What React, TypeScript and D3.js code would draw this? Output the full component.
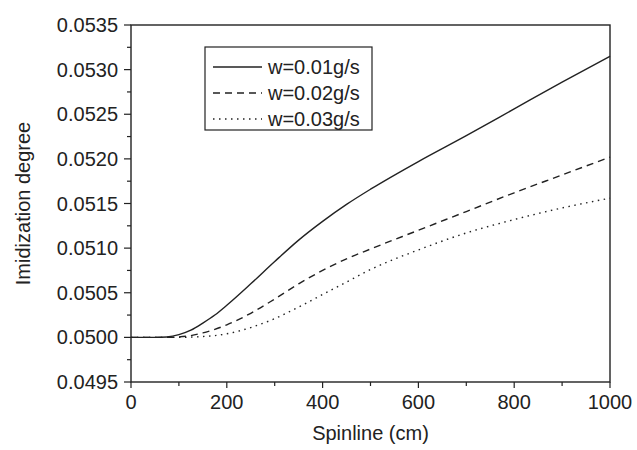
import React from "react";
import * as d3 from "d3";

const xCm = [0, 50, 75, 100, 125, 150, 175, 200, 250, 300, 350, 400, 450, 500, 600, 700, 800, 900, 1000];
const w001 = [0.05, 0.05, 0.050005, 0.05003, 0.05008, 0.05016, 0.05025, 0.05036, 0.0506, 0.05085, 0.05109, 0.0513, 0.05149, 0.05166, 0.05197, 0.05226, 0.05256, 0.05286, 0.05315];
const w002 = [0.05, 0.05, 0.05, 0.050005, 0.05002, 0.05005, 0.05009, 0.05014, 0.05027, 0.05043, 0.0506, 0.05075, 0.05088, 0.05099, 0.0512, 0.05141, 0.05162, 0.05182, 0.05202];
const w003 = [0.05, 0.05, 0.05, 0.05, 0.050003, 0.05001, 0.05002, 0.05004, 0.05011, 0.05021, 0.05034, 0.05048, 0.05062, 0.05076, 0.05098, 0.05117, 0.05132, 0.05145, 0.05156];
const seriesNames = ["w=0.01g/s", "w=0.02g/s", "w=0.03g/s"];
const xTicks = [0, 200, 400, 600, 800, 1000];
const yTicks = [0.0495, 0.05, 0.0505, 0.051, 0.0515, 0.052, 0.0525, 0.053, 0.0535];

const W = 637, H = 450;
const L = 131, R = 610, T = 25, B = 382;
const FONT = "'Liberation Sans', Arial, Helvetica, sans-serif";
const INK = "#222";

export default function App() {
  const x = d3.scaleLinear().domain([0, 1000]).range([L, R]);
  const y = d3.scaleLinear().domain([0.0495, 0.0535]).range([B, T]);
  const line = d3.line<[number, number]>().x(d => x(d[0])).y(d => y(d[1])).curve(d3.curveMonotoneX);
  const data = [w001, w002, w003];
  const dashes = ["none", "7,5", "1.5,4.5"];
  const xMinor = d3.range(0, 1001, 100);
  const yMinor = d3.range(0, 17).map(i => 0.0495 + i * 0.00025);

  return (
    <svg width={W} height={H} style={{ position: "absolute", left: 0, top: 0, background: "#fff" }} fontFamily={FONT}>
      <rect x={0} y={0} width={W} height={H} fill="#fff" />
      {data.map((vals, i) => (
        <path key={i} d={line(xCm.map((c, j) => [c, vals[j]] as [number, number])) || ""} fill="none" stroke={INK} strokeWidth={1.4} strokeDasharray={dashes[i]} />
      ))}
      <rect x={L} y={T} width={R - L} height={B - T} fill="none" stroke={INK} strokeWidth={1.4} />
      {xMinor.map(v => (
        <line key={"xm" + v} x1={x(v)} x2={x(v)} y1={B} y2={B + (v % 200 === 0 ? 6 : 4)} stroke={INK} strokeWidth={1.2} />
      ))}
      {yMinor.map((v, i) => (
        <line key={"ym" + i} x1={L} x2={L - (i % 2 === 0 ? 7 : 4)} y1={y(v)} y2={y(v)} stroke={INK} strokeWidth={1.2} />
      ))}
      {xTicks.map(v => (
        <text key={"xt" + v} x={x(v)} y={409} textAnchor="middle" fontSize={20} fill={INK}>{v}</text>
      ))}
      {yTicks.map(v => (
        <text key={"yt" + v} x={118} y={y(v) + 7} textAnchor="end" fontSize={20} fill={INK}>{v.toFixed(4)}</text>
      ))}
      <text x={(L + R) / 2} y={440} textAnchor="middle" fontSize={20} fill={INK}>Spinline (cm)</text>
      <text transform={`translate(30,${(T + B) / 2}) rotate(-90)`} textAnchor="middle" fontSize={20} fill={INK}>Imidization degree</text>
      <g>
        <rect x={205} y={47} width={167} height={83} fill="#fff" stroke={INK} strokeWidth={1.2} />
        {seriesNames.map((n, i) => (
          <g key={n}>
            <line x1={213} x2={262} y1={67 + i * 26} y2={67 + i * 26} stroke={INK} strokeWidth={1.4} strokeDasharray={dashes[i]} />
            <text x={268} y={67 + i * 26 + 7} fontSize={20} fill={INK}>{n}</text>
          </g>
        ))}
      </g>
    </svg>
  );
}
